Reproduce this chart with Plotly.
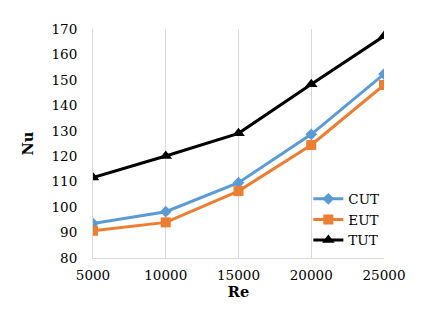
import plotly.graph_objects as go

re_vals = [5000, 10000, 15000, 20000, 25000]
cut = [93.6, 98.2, 109.6, 128.6, 152.3]
eut = [90.7, 94.0, 106.3, 124.4, 148.0]
tut = [111.6, 120.1, 129.0, 148.3, 167.2]
series_names = ["CUT", "EUT", "TUT"]
y_ticks = [80, 90, 100, 110, 120, 130, 140, 150, 160, 170]
x_ticks = [5000, 10000, 15000, 20000, 25000]

font = "DejaVu Serif"
fig = go.Figure()
styles = [
    ("#5B9BD5", "diamond", 9),
    ("#ED7D31", "square", 10),
    ("#000000", "triangle-up", 11),
]
for name, ys, (c, sym, sz) in zip(series_names, [cut, eut, tut], styles):
    fig.add_trace(go.Scatter(
        x=re_vals, y=ys, name=name, mode="lines+markers",
        line=dict(color=c, width=3),
        marker=dict(symbol=sym, size=sz, color=c),
    ))

fig.update_layout(
    width=435, height=312,
    margin=dict(l=85, r=59, t=21, b=62),
    paper_bgcolor="white", plot_bgcolor="white",
    font=dict(family=font, size=13.5, color="#000"),
    showlegend=True,
    legend=dict(x=0.74, y=0.325, xanchor="left", yanchor="top",
                bgcolor="rgba(255,255,255,0)", font=dict(family=font, size=13.5, color="#000"),
                tracegroupgap=0, itemwidth=30),
    xaxis=dict(
        range=[5000, 25000], tickvals=x_ticks, ticktext=[str(v) for v in x_ticks],
        showgrid=True, gridcolor="#D9D9D9", gridwidth=1,
        showline=True, linecolor="#D9D9D9", linewidth=1,
        ticks="", ticklabelstandoff=5, zeroline=False,
        tickfont=dict(family=font, size=13.5),
        title=dict(text="<b>Re</b>", standoff=3, font=dict(family=font, size=14.5)),
    ),
    yaxis=dict(
        range=[80, 170], tickvals=y_ticks,
        showgrid=False,
        showline=True, linecolor="#D9D9D9", linewidth=1,
        ticks="", ticklabelstandoff=12, zeroline=False,
        tickfont=dict(family=font, size=13.5),
        title=dict(text="<b>Nu</b>", standoff=14, font=dict(family=font, size=14.5)),
    ),
)
fig.write_html("out.html")
